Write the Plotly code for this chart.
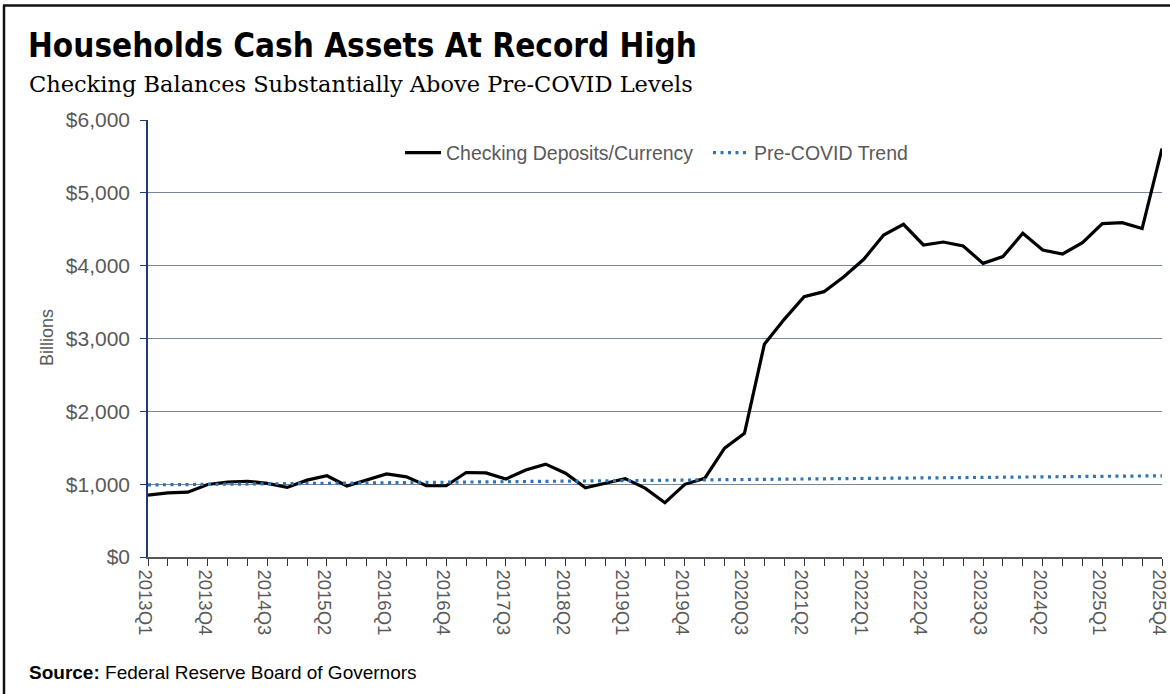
import plotly.graph_objects as go

quarters = [
    "2013Q1", "2013Q2", "2013Q3", "2013Q4", "2014Q1", "2014Q2", "2014Q3", "2014Q4",
    "2015Q1", "2015Q2", "2015Q3", "2015Q4", "2016Q1", "2016Q2", "2016Q3", "2016Q4",
    "2017Q1", "2017Q2", "2017Q3", "2017Q4", "2018Q1", "2018Q2", "2018Q3", "2018Q4",
    "2019Q1", "2019Q2", "2019Q3", "2019Q4", "2020Q1", "2020Q2", "2020Q3", "2020Q4",
    "2021Q1", "2021Q2", "2021Q3", "2021Q4", "2022Q1", "2022Q2", "2022Q3", "2022Q4",
    "2023Q1", "2023Q2", "2023Q3", "2023Q4", "2024Q1", "2024Q2", "2024Q3", "2024Q4",
    "2025Q1", "2025Q2", "2025Q3", "2025Q4",
]

checking = [
    850, 880, 890, 995, 1030, 1040, 1010, 955,
    1055, 1115, 975, 1055, 1140, 1100, 980, 978,
    1160, 1155, 1070, 1195, 1275, 1150, 950, 1012,
    1076, 945, 745, 998, 1080, 1495, 1698, 2920,
    3263, 3574, 3643, 3849, 4087, 4421, 4568, 4284,
    4325, 4270, 4032, 4124, 4444, 4215, 4160, 4316,
    4577, 4591, 4509, 5607,
]

trend = [
    990, 992, 995, 997, 1000, 1002, 1005, 1007,
    1010, 1012, 1015, 1017, 1019, 1022, 1024, 1027,
    1029, 1032, 1034, 1037, 1039, 1041, 1044, 1046,
    1049, 1051, 1054, 1056, 1059, 1061, 1064, 1066,
    1068, 1071, 1073, 1076, 1078, 1081, 1083, 1086,
    1088, 1090, 1093, 1095, 1098, 1100, 1103, 1105,
    1108, 1110, 1113, 1115,
]

y_ticks = [0, 1000, 2000, 3000, 4000, 5000, 6000]
y_tick_labels = ["$0", "$1,000", "$2,000", "$3,000", "$4,000", "$5,000", "$6,000"]

tick_labels = [q if i % 3 == 0 else "" for i, q in enumerate(quarters)]

W, H = 1170, 694
L, R, T, B = 148, 8, 120, 137
PW, PH = W - L - R, H - T - B


def px(x):
    return (x - L) / PW


def py(y):
    return (H - B - y) / PH


GRAY = "#595959"
FONT = "Liberation Sans, Arial, sans-serif"

fig = go.Figure()
fig.add_trace(go.Scatter(
    x=quarters, y=checking, mode="lines", name="Checking Deposits/Currency",
    line=dict(color="#000000", width=3.2),
))
fig.add_trace(go.Scatter(
    x=quarters, y=trend, mode="lines", name="Pre-COVID Trend",
    line=dict(color="#2E75B6", width=3.2, dash="3px,4.5px"),
))

fig.update_layout(
    width=W, height=H,
    margin=dict(l=L, r=R, t=T, b=B, autoexpand=False),
    paper_bgcolor="white", plot_bgcolor="white",
    font=dict(family=FONT, color=GRAY, size=19),
    showlegend=True,
    legend=dict(
        orientation="h", x=px(400), xanchor="left", y=py(153), yanchor="middle",
        font=dict(size=19.5, color=GRAY), bgcolor="rgba(0,0,0,0)",
        itemwidth=36, tracegroupgap=0, entrywidth=257, entrywidthmode="pixels",
        borderwidth=0,
    ),
    hovermode=False,
)

fig.update_xaxes(
    type="category", categoryorder="array", categoryarray=quarters,
    range=[0, len(quarters) - 1], automargin=False,
    tickmode="array", tickvals=quarters, ticktext=tick_labels,
    tickangle=90, ticks="outside", ticklen=7, tickwidth=1.3, tickcolor="#333333",
    ticklabelshift=-3,
    showline=True, linecolor="#555555", linewidth=1.6,
    showgrid=False, zeroline=False,
    tickfont=dict(size=18.5, color=GRAY, family=FONT),
)
fig.update_yaxes(
    range=[0, 6000], tickmode="array", tickvals=y_ticks, ticktext=y_tick_labels,
    automargin=False, ticklabelstandoff=6,
    ticks="outside", ticklen=6, tickwidth=1.3, tickcolor="#1F3B73",
    showline=True, linecolor="#1F3B73", linewidth=1.5,
    showgrid=True, gridcolor="#7A869C", gridwidth=1.2,
    zeroline=False,
    tickfont=dict(size=21, color=GRAY, family=FONT),
)

fig.add_annotation(
    text="Billions", textangle=-90, x=px(47), y=py(338), xref="paper", yref="paper",
    showarrow=False, xanchor="center", yanchor="middle",
    font=dict(size=18, color=GRAY, family=FONT),
)
fig.add_annotation(
    text="<b>Households Cash Assets At Record High</b>",
    x=px(26), y=py(45), xref="paper", yref="paper", showarrow=False,
    xanchor="left", yanchor="middle",
    font=dict(size=33, color="#000000", family="Liberation Sans Narrow, DejaVu Sans Condensed, Arial Narrow, sans-serif"),
)
fig.add_annotation(
    text="Checking Balances Substantially Above Pre-COVID Levels",
    x=px(27), y=py(84), xref="paper", yref="paper", showarrow=False,
    xanchor="left", yanchor="middle",
    font=dict(size=22.5, color="#000000", family="DejaVu Serif, Georgia, serif"),
)
fig.add_annotation(
    text="<b>Source:</b> Federal Reserve Board of Governors",
    x=px(27), y=py(672), xref="paper", yref="paper", showarrow=False,
    xanchor="left", yanchor="middle",
    font=dict(size=19, color="#000000", family=FONT),
)

# outer frame lines
fig.add_shape(type="line", xref="paper", yref="paper",
              x0=px(3), x1=px(1172), y0=py(5.5), y1=py(5.5),
              line=dict(color="#111111", width=2.5))
fig.add_shape(type="line", xref="paper", yref="paper",
              x0=px(4), x1=px(4), y0=py(5.5), y1=py(696),
              line=dict(color="#111111", width=2.5))

fig.write_html("out.html")
